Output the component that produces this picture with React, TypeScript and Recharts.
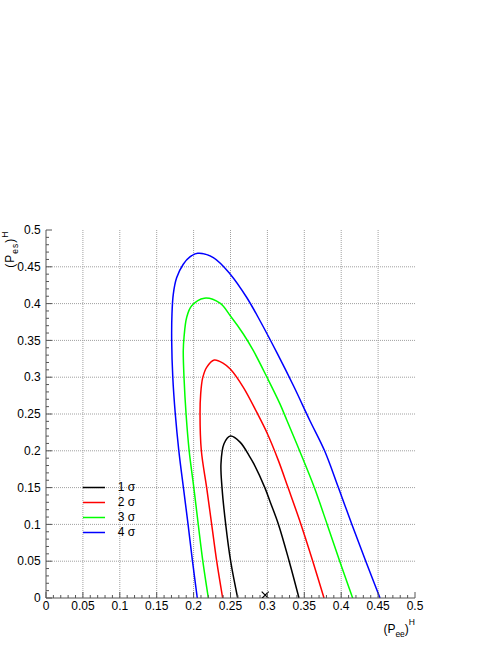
import React from 'react';
import { ComposedChart, Line, Scatter, XAxis, YAxis, CartesianGrid, Legend, Label } from 'recharts';

// ---- data ----
const SIGMA1 = [
  { x: 0.2597, y: 0 },
  { x: 0.2502, y: 0.05 },
  { x: 0.2435, y: 0.1 },
  { x: 0.2385, y: 0.15 },
  { x: 0.2371, y: 0.1825 },
  { x: 0.2412, y: 0.2096 },
  { x: 0.25, y: 0.22 },
  { x: 0.2629, y: 0.2118 },
  { x: 0.2764, y: 0.1915 },
  { x: 0.2815, y: 0.1825 },
  { x: 0.2965, y: 0.15 },
  { x: 0.3038, y: 0.1305 },
  { x: 0.315, y: 0.1 },
  { x: 0.3295, y: 0.05 },
  { x: 0.3428, y: 0 },
];

const SIGMA2 = [
  { x: 0.2394, y: 0 },
  { x: 0.2313, y: 0.05 },
  { x: 0.2245, y: 0.1 },
  { x: 0.2177, y: 0.15 },
  { x: 0.2105, y: 0.2 },
  { x: 0.2087, y: 0.25 },
  { x: 0.2096, y: 0.2773 },
  { x: 0.2123, y: 0.299 },
  { x: 0.2177, y: 0.3134 },
  { x: 0.228, y: 0.3234 },
  { x: 0.2403, y: 0.3189 },
  { x: 0.2497, y: 0.3112 },
  { x: 0.2674, y: 0.2863 },
  { x: 0.2855, y: 0.2525 },
  { x: 0.3, y: 0.2232 },
  { x: 0.3148, y: 0.187 },
  { x: 0.328, y: 0.15 },
  { x: 0.3455, y: 0.1 },
  { x: 0.3615, y: 0.05 },
  { x: 0.3767, y: 0 },
];

const SIGMA3 = [
  { x: 0.22, y: 0 },
  { x: 0.2125, y: 0.05 },
  { x: 0.2063, y: 0.1 },
  { x: 0.2003, y: 0.15 },
  { x: 0.194, y: 0.2 },
  { x: 0.1898, y: 0.25 },
  { x: 0.187, y: 0.3 },
  { x: 0.186, y: 0.336 },
  { x: 0.187, y: 0.354 },
  { x: 0.1906, y: 0.3812 },
  { x: 0.1974, y: 0.397 },
  { x: 0.2145, y: 0.4074 },
  { x: 0.2358, y: 0.4005 },
  { x: 0.2497, y: 0.3835 },
  { x: 0.2674, y: 0.3587 },
  { x: 0.281, y: 0.336 },
  { x: 0.2999, y: 0.299 },
  { x: 0.317, y: 0.2638 },
  { x: 0.3265, y: 0.2412 },
  { x: 0.3436, y: 0.2 },
  { x: 0.3636, y: 0.15 },
  { x: 0.381, y: 0.1 },
  { x: 0.398, y: 0.05 },
  { x: 0.4155, y: 0 },
];

const SIGMA4 = [
  { x: 0.205, y: 0 },
  { x: 0.1985, y: 0.05 },
  { x: 0.1925, y: 0.1 },
  { x: 0.1862, y: 0.15 },
  { x: 0.18, y: 0.2 },
  { x: 0.1752, y: 0.25 },
  { x: 0.1718, y: 0.3 },
  { x: 0.1703, y: 0.35 },
  { x: 0.1707, y: 0.386 },
  { x: 0.1725, y: 0.413 },
  { x: 0.177, y: 0.435 },
  { x: 0.186, y: 0.4535 },
  { x: 0.195, y: 0.4634 },
  { x: 0.2055, y: 0.4684 },
  { x: 0.2267, y: 0.4625 },
  { x: 0.2497, y: 0.44 },
  { x: 0.272, y: 0.4083 },
  { x: 0.29, y: 0.3767 },
  { x: 0.313, y: 0.333 },
  { x: 0.3355, y: 0.288 },
  { x: 0.3575, y: 0.2412 },
  { x: 0.3775, y: 0.2 },
  { x: 0.3962, y: 0.15 },
  { x: 0.4145, y: 0.1 },
  { x: 0.4333, y: 0.05 },
  { x: 0.4526, y: 0 },
];

const MARKER = [{ x: 0.297, y: 0.004 }];

const SERIES_NAMES = ['1 σ', '2 σ', '3 σ', '4 σ'];
const SERIES_COLORS = ['#000000', '#ff0000', '#00ff00', '#0000ff'];

const MAJOR_TICKS = [0, 0.05, 0.1, 0.15, 0.2, 0.25, 0.3, 0.35, 0.4, 0.45, 0.5];
const TICK_LABELS = ['0', '0.05', '0.1', '0.15', '0.2', '0.25', '0.3', '0.35', '0.4', '0.45', '0.5'];
const GRID_VALUES = [0.05, 0.1, 0.15, 0.2, 0.25, 0.3, 0.35, 0.4, 0.45];
const ALL_TICKS = Array.from({ length: 51 }, (_, i) => Number((i * 0.01).toFixed(2)));

// ---- styles ----
const FONT = '"Liberation Sans", Arial, Helvetica, sans-serif';
const AXIS_COLOR = '#555555';
const MAJOR_LEN = 6;
const MINOR_LEN = 3;

// centripetal Catmull-Rom curve factory (d3-style)
const catmullRom = (context: any) => {
  let pts: number[][] = [];
  return {
    areaStart() {},
    areaEnd() {},
    lineStart() {
      pts = [];
    },
    lineEnd() {
      const n = pts.length;
      if (n === 0) return;
      context.moveTo(pts[0][0], pts[0][1]);
      for (let i = 0; i < n - 1; i++) {
        const p0 = pts[Math.max(i - 1, 0)];
        const p1 = pts[i];
        const p2 = pts[i + 1];
        const p3 = pts[Math.min(i + 2, n - 1)];
        const d01 = Math.hypot(p1[0] - p0[0], p1[1] - p0[1]);
        const d12 = Math.hypot(p2[0] - p1[0], p2[1] - p1[1]);
        const d23 = Math.hypot(p3[0] - p2[0], p3[1] - p2[1]);
        const l01a = Math.sqrt(d01);
        const l12a = Math.sqrt(d12);
        const l23a = Math.sqrt(d23);
        let c1x = p1[0];
        let c1y = p1[1];
        let c2x = p2[0];
        let c2y = p2[1];
        if (l01a > 1e-6) {
          const a = 2 * d01 + 3 * l01a * l12a + d12;
          const nn = 3 * l01a * (l01a + l12a);
          c1x = (p1[0] * a - p0[0] * d12 + p2[0] * d01) / nn;
          c1y = (p1[1] * a - p0[1] * d12 + p2[1] * d01) / nn;
        }
        if (l23a > 1e-6) {
          const b = 2 * d23 + 3 * l23a * l12a + d12;
          const m = 3 * l23a * (l23a + l12a);
          c2x = (p2[0] * b + p1[0] * d23 - p3[0] * d12) / m;
          c2y = (p2[1] * b + p1[1] * d23 - p3[1] * d12) / m;
        }
        context.bezierCurveTo(c1x, c1y, c2x, c2y, p2[0], p2[1]);
      }
    },
    point(x: number, y: number) {
      pts.push([+x, +y]);
    },
  };
};

const majorIndex = (v: number) => MAJOR_TICKS.findIndex((m) => Math.abs(m - v) < 1e-6);

const BottomTick = (props: any) => {
  const { x, y, payload } = props;
  const mi = majorIndex(payload.value);
  const len = mi >= 0 ? MAJOR_LEN : MINOR_LEN;
  return (
    <g>
      <line x1={x} x2={x} y1={y} y2={y - len} stroke={AXIS_COLOR} strokeWidth={1} />
      {mi >= 0 && (
        <text x={x} y={y + 12} textAnchor="middle" fontSize={12} fontFamily={FONT} fill="#000">
          {TICK_LABELS[mi]}
        </text>
      )}
    </g>
  );
};

const TopTick = (props: any) => {
  const { x, y, payload } = props;
  const mi = majorIndex(payload.value);
  const len = mi >= 0 ? MAJOR_LEN : MINOR_LEN;
  return <line x1={x} x2={x} y1={y} y2={y + len} stroke={AXIS_COLOR} strokeWidth={1} />;
};

const LeftTick = (props: any) => {
  const { x, y, payload } = props;
  const mi = majorIndex(payload.value);
  const len = mi >= 0 ? MAJOR_LEN : MINOR_LEN;
  return (
    <g>
      <line x1={x} x2={x + len} y1={y} y2={y} stroke={AXIS_COLOR} strokeWidth={1} />
      {mi >= 0 && (
        <text x={x - 5.3} y={y + 4.2} textAnchor="end" fontSize={12} fontFamily={FONT} fill="#000">
          {TICK_LABELS[mi]}
        </text>
      )}
    </g>
  );
};

const RightTick = (props: any) => {
  const { x, y, payload } = props;
  const mi = majorIndex(payload.value);
  const len = mi >= 0 ? MAJOR_LEN : MINOR_LEN;
  return <line x1={x} x2={x - len} y1={y} y2={y} stroke={AXIS_COLOR} strokeWidth={1} />;
};

const CrossShape = (props: any) => {
  const { cx, cy } = props;
  const r = 3.5;
  return (
    <path
      d={`M${cx - r},${cy - r}L${cx + r},${cy + r}M${cx + r},${cy - r}L${cx - r},${cy + r}`}
      stroke="#000"
      strokeWidth={1.2}
      fill="none"
    />
  );
};

const XTitle = () => (
  <text x={415} y={632.5} textAnchor="end" fontFamily={FONT} fontSize={12} fill="#000">
    (P
    <tspan fontSize={8.5} dy={4.5}>
      ee
    </tspan>
    <tspan dy={-4.5}>)</tspan>
    <tspan fontSize={8.5} dy={-7.5}>
      H
    </tspan>
  </text>
);

const YTitle = () => (
  <text
    transform="translate(14.2,230.7) rotate(-90)"
    x={0}
    y={0}
    textAnchor="end"
    fontFamily={FONT}
    fontSize={12}
    letterSpacing={1}
    fill="#000"
  >
    (P
    <tspan fontSize={8.5} dy={3.5}>
      es
    </tspan>
    <tspan dy={-3.5}>)</tspan>
    <tspan fontSize={8.5} dy={-6}>
      H
    </tspan>
  </text>
);

const LegendContent = (props: any) => {
  const payload = (props.payload || []).filter((p: any) => SERIES_NAMES.includes(p.value));
  return (
    <div style={{ fontFamily: FONT, fontSize: 12, color: '#000' }}>
      {payload.map((p: any) => (
        <div key={p.value} style={{ display: 'flex', alignItems: 'center', height: 15 }}>
          <svg width={22} height={15} style={{ display: 'block' }}>
            <line x1={0} x2={22} y1={7.5} y2={7.5} stroke={p.color} strokeWidth={1.5} />
          </svg>
          <span style={{ marginLeft: 13, lineHeight: '15px', whiteSpace: 'nowrap' }}>{p.value}</span>
        </div>
      ))}
    </div>
  );
};

const SERIES = [SIGMA1, SIGMA2, SIGMA3, SIGMA4];

export default function App() {
  return (
    <div style={{ width: 498, height: 645 }}>
      <style>{'body{margin:0}'}</style>
      <ComposedChart width={498} height={645} margin={{ top: 230, right: 83, bottom: 7, left: 16 }}>
        <CartesianGrid
          xAxisId="b"
          yAxisId="l"
          stroke="#a0a0a0"
          strokeDasharray="1 1"
          verticalValues={GRID_VALUES}
          horizontalValues={GRID_VALUES}
        />
        <XAxis
          xAxisId="b"
          type="number"
          dataKey="x"
          domain={[0, 0.5]}
          ticks={ALL_TICKS}
          interval={0}
          tickSize={0}
          tickMargin={0}
          height={40}
          axisLine={{ stroke: AXIS_COLOR }}
          tickLine={false}
          tick={<BottomTick />}
          allowDataOverflow
        >
          <Label content={<XTitle />} />
        </XAxis>
        <XAxis
          xAxisId="t"
          orientation="top"
          type="number"
          dataKey="x"
          domain={[0, 0.5]}
          ticks={ALL_TICKS}
          interval={0}
          tickSize={0}
          tickMargin={0}
          height={0}
          axisLine={{ stroke: AXIS_COLOR }}
          tickLine={false}
          tick={<TopTick />}
          allowDataOverflow
        />
        <YAxis
          yAxisId="l"
          type="number"
          dataKey="y"
          domain={[0, 0.5]}
          ticks={ALL_TICKS}
          interval={0}
          tickSize={0}
          tickMargin={0}
          width={30}
          axisLine={{ stroke: AXIS_COLOR }}
          tickLine={false}
          tick={<LeftTick />}
          allowDataOverflow
        >
          <Label content={<YTitle />} />
        </YAxis>
        <YAxis
          yAxisId="r"
          orientation="right"
          type="number"
          dataKey="y"
          domain={[0, 0.5]}
          ticks={ALL_TICKS}
          interval={0}
          tickSize={0}
          tickMargin={0}
          width={0}
          axisLine={{ stroke: AXIS_COLOR }}
          tickLine={false}
          tick={<RightTick />}
          allowDataOverflow
        />
        {SERIES.map((d, i) => (
          <Line
            key={SERIES_NAMES[i]}
            xAxisId="b"
            yAxisId="l"
            data={d}
            dataKey="y"
            name={SERIES_NAMES[i]}
            type={catmullRom as any}
            stroke={SERIES_COLORS[i]}
            strokeWidth={1.5}
            dot={false}
            activeDot={false}
            isAnimationActive={false}
          />
        ))}
        <Scatter
          xAxisId="b"
          yAxisId="l"
          data={MARKER}
          dataKey="y"
          name="best fit"
          shape={<CrossShape />}
          legendType="none"
          isAnimationActive={false}
        />
        <Legend
          layout="horizontal"
          verticalAlign="middle"
          align="center"
          wrapperStyle={{ left: 82.7, top: 479.8, width: 70, height: 60 }}
          content={<LegendContent />}
        />
      </ComposedChart>
    </div>
  );
}
